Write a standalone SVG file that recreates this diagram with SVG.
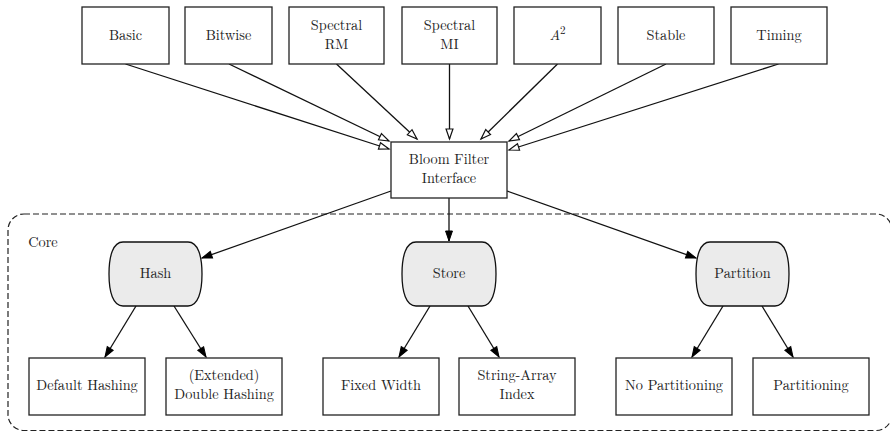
<svg xmlns="http://www.w3.org/2000/svg" width="890" height="432" viewBox="0 0 890 432">
<style>
.box{fill:#fff;stroke:#222;stroke-width:1.3}
.pill{fill:#ebebeb;stroke:#111;stroke-width:1.3}
text{font-family:'Latin Modern Roman','CMU Serif','Liberation Serif','DejaVu Serif','Noto Serif','TeX Gyre Termes','Nimbus Roman','FreeSerif','Times New Roman',serif;font-size:14.3px;fill:#222;text-anchor:middle}
.e{fill:none;stroke:#111;stroke-width:1.3}
.o{marker-end:url(#open)}
.f{marker-end:url(#fill)}
</style>
<defs>
<marker id="open" markerUnits="userSpaceOnUse" markerWidth="12" markerHeight="9" refX="10.5" refY="3.75" orient="auto" overflow="visible">
<path d="M0.5,0.3 L10.5,3.75 L0.5,7.2 Z" fill="#fff" stroke="#111" stroke-width="1.2"/>
</marker>
<marker id="fill" markerUnits="userSpaceOnUse" markerWidth="12" markerHeight="9" refX="10.5" refY="3.75" orient="auto" overflow="visible">
<path d="M0.5,0.3 L10.5,3.75 L0.5,7.2 Z" fill="#000" stroke="#000" stroke-width="1"/>
</marker>
</defs>

<g id="cluster-core">
<rect x="8" y="214" width="884" height="216.5" rx="16" ry="16" fill="none" stroke="#222" stroke-width="1.2" stroke-dasharray="6,3"/>
<text x="43" y="247">Core</text>
</g>

<g id="edges">
<line class="e o" x1="125.5" y1="64" x2="389" y2="149"/>
<line class="e o" x1="229" y1="64" x2="389" y2="141"/>
<line class="e o" x1="336.5" y1="64" x2="417" y2="139"/>
<line class="e o" x1="449.5" y1="64" x2="449.5" y2="139"/>
<line class="e o" x1="557.5" y1="64" x2="481" y2="139"/>
<line class="e o" x1="666" y1="64" x2="509" y2="141"/>
<line class="e o" x1="778.5" y1="64" x2="509" y2="150"/>
<line class="e f" x1="391" y1="191" x2="202" y2="258"/>
<line class="e f" x1="449" y1="198" x2="449" y2="241"/>
<line class="e f" x1="507" y1="191" x2="696" y2="258"/>
<line class="e f" x1="136" y1="306" x2="105" y2="357"/>
<line class="e f" x1="174" y1="306" x2="206" y2="357"/>
<line class="e f" x1="430" y1="306" x2="399" y2="357"/>
<line class="e f" x1="468" y1="306" x2="499" y2="357"/>
<line class="e f" x1="723" y1="306" x2="692" y2="357"/>
<line class="e f" x1="762" y1="306" x2="793" y2="357"/>
</g>

<g id="basic"><rect class="box" x="82" y="7" width="87" height="57"/><text x="125.5" y="40">Basic</text></g>
<g id="bitwise"><rect class="box" x="185" y="7" width="87" height="57"/><text x="228.5" y="40">Bitwise</text></g>
<g id="spectral-rm"><rect class="box" x="289" y="7" width="95" height="57"/><text x="336.5" y="30">Spectral</text><text x="336.5" y="49">RM</text></g>
<g id="spectral-mi"><rect class="box" x="402" y="7" width="95" height="57"/><text x="449.5" y="30">Spectral</text><text x="449.5" y="49">MI</text></g>
<g id="a2"><rect class="box" x="514" y="7" width="87" height="57"/><text x="557.5" y="40"><tspan font-style="italic">A</tspan><tspan font-size="11px" dy="-6">2</tspan></text></g>
<g id="stable"><rect class="box" x="618" y="7" width="96" height="57"/><text x="666" y="40">Stable</text></g>
<g id="timing"><rect class="box" x="731" y="7" width="96" height="57"/><text x="779" y="40">Timing</text></g>

<g id="bloom"><rect class="box" x="391" y="142" width="116" height="56"/><text x="449" y="164">Bloom Filter</text><text x="449" y="183">Interface</text></g>

<g id="hash"><path class="pill" d="M123,242 H188 C198,242 202,256 202,274 C202,292 198,306 188,306 H123 C113,306 109,292 109,274 C109,256 113,242 123,242 Z"/><text x="155.5" y="278">Hash</text></g>
<g id="store"><path class="pill" d="M416,242 H482 C492,242 496,256 496,274 C496,292 492,306 482,306 H416 C406,306 402,292 402,274 C402,256 406,242 416,242 Z"/><text x="449" y="278">Store</text></g>
<g id="partition"><path class="pill" d="M710,242 H775 C785,242 789,256 789,274 C789,292 785,306 775,306 H710 C700,306 696,292 696,274 C696,256 700,242 710,242 Z"/><text x="742.5" y="278">Partition</text></g>

<g id="default-hashing"><rect class="box" x="29" y="358" width="116" height="57"/><text x="87" y="390">Default Hashing</text></g>
<g id="double-hashing"><rect class="box" x="166" y="358" width="116" height="57"/><text x="224" y="380">(Extended)</text><text x="224" y="399">Double Hashing</text></g>
<g id="fixed-width"><rect class="box" x="323" y="358" width="116" height="57"/><text x="381" y="390">Fixed Width</text></g>
<g id="string-array"><rect class="box" x="459" y="358" width="116" height="57"/><text x="517" y="380">String-Array</text><text x="517" y="399">Index</text></g>
<g id="no-partitioning"><rect class="box" x="616" y="358" width="116" height="57"/><text x="674" y="390">No Partitioning</text></g>
<g id="partitioning"><rect class="box" x="753" y="358" width="116" height="57"/><text x="811" y="390">Partitioning</text></g>
</svg>
